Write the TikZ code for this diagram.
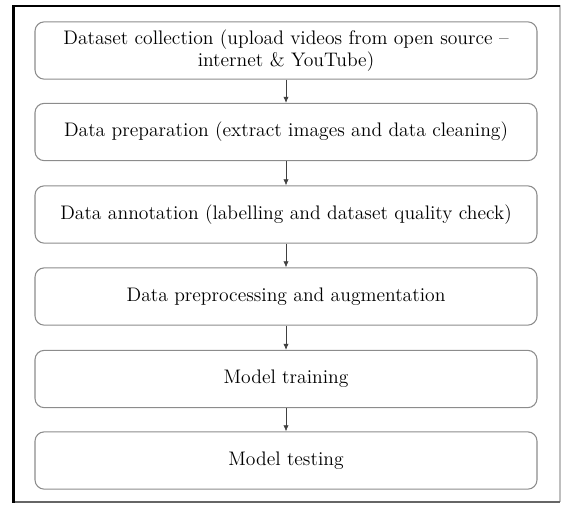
\documentclass[tikz,border=0pt]{standalone}
\usetikzlibrary{arrows.meta}
\definecolor{boxgray}{RGB}{140,140,140}
\tikzset{
  stepbox/.style={draw=boxgray, line width=0.8pt, rounded corners=7pt, minimum width=376.5pt, minimum height=43pt, align=center, font=\fontsize{14.7}{16.5}\selectfont, inner sep=0pt},
  flowarrow/.style={draw=black!75, line width=0.5pt, -{Latex[length=4.5pt,width=4pt]}}
}
\begin{document}
\begin{tikzpicture}[x=0.75pt,y=-0.75pt]
\useasboundingbox (0,0) rectangle (561,504);
% frame
\draw[black!25, line width=0.8pt] (560,5) -- (560,502);
\draw[black!60, line width=1pt] (12,502) -- (560,502);
\draw[black, line width=1.6pt] (560,6) -- (13,6);
\draw[black, line width=2.2pt] (13.5,5) -- (13.5,502.5);
% boxes
\node[stepbox] (b1) at (286,50.5) {Dataset collection (upload videos from open source --\\internet \& YouTube)};
\node[stepbox] (b2) at (286,132) {Data preparation (extract images and data cleaning)};
\node[stepbox] (b3) at (286,214.5) {Data annotation (labelling and dataset quality check)};
\node[stepbox] (b4) at (286,296.5) {Data preprocessing and augmentation};
\node[stepbox] (b5) at (286,379) {Model training};
\node[stepbox] (b6) at (286,460.5) {Model testing};
% arrows
\draw[flowarrow] (b1) -- (b2);
\draw[flowarrow] (b2) -- (b3);
\draw[flowarrow] (b3) -- (b4);
\draw[flowarrow] (b4) -- (b5);
\draw[flowarrow] (b5) -- (b6);
\end{tikzpicture}
\end{document}
